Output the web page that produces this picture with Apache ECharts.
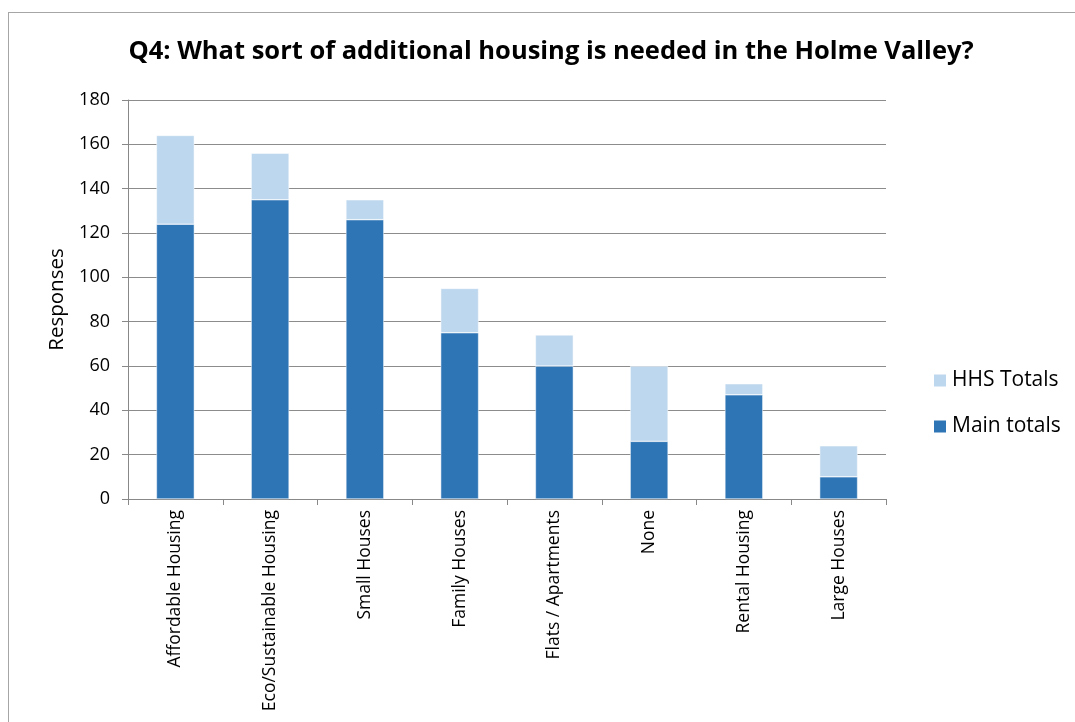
<!DOCTYPE html>
<html><head><meta charset="utf-8">
<script src="https://cdn.jsdelivr.net/npm/echarts@6/dist/echarts.min.js"></script>
<style>
html,body{margin:0;padding:0;background:#fff;}
#c{width:1075px;height:722px;position:absolute;left:0;top:0;}
#b{position:absolute;left:8px;top:12px;width:1100px;height:800px;border:1.5px solid #a6a6a6;pointer-events:none;}
</style></head>
<body>
<div id="c"></div><div id="b"></div>
<script>
const categories = ['Affordable Housing','Eco/Sustainable Housing','Small Houses','Family Houses','Flats / Apartments','None','Rental Housing','Large Houses'];
const mainTotals = [124,135,126,75,60,26,47,10];
const hhsTotals = [40,21,9,20,14,34,5,14];
const yTicks = [0,20,40,60,80,100,120,140,160,180];

const font = "'Open Sans', 'Liberation Sans', sans-serif";
const chart = echarts.init(document.getElementById('c'));
chart.setOption({
  animation:false,
  backgroundColor:'#fff',
  title:{text:'Q4: What sort of additional housing is needed in the Holme Valley?',left:546,top:34,textAlign:'center',
    textStyle:{fontFamily:font,fontWeight:'bold',fontSize:25.5,color:'#000'}},
  legend:{orient:'vertical',left:927,top:365,itemWidth:14,itemHeight:14,itemGap:25,icon:'rect',
    data:['HHS Totals','Main totals'],
    textStyle:{fontFamily:font,fontSize:21,color:'#000'}},
  grid:{left:128,right:189,top:100,bottom:223,containLabel:false},
  xAxis:{type:'category',data:categories,
    axisLine:{lineStyle:{color:'#888',width:1}},
    axisTick:{show:true,length:6,lineStyle:{color:'#888'}},
    axisLabel:{rotate:90,fontFamily:font,fontSize:17.5,color:'#000',margin:11,interval:0}},
  yAxis:{type:'value',min:yTicks[0],max:yTicks[yTicks.length-1],interval:20,
    name:'Responses',nameLocation:'middle',nameGap:60,nameRotate:90,
    nameTextStyle:{fontFamily:font,fontSize:20.5,color:'#000'},
    axisLine:{show:true,lineStyle:{color:'#888'}},
    axisTick:{show:true,length:6,lineStyle:{color:'#888'}},
    splitLine:{lineStyle:{color:'#8c8c8c',width:1}},
    axisLabel:{fontFamily:font,fontSize:18,color:'#000',margin:18}},
  series:[
    {name:'Main totals',type:'bar',stack:'t',data:mainTotals,barWidth:'40%',
     itemStyle:{color:'#2E75B6',borderColor:'#fff',borderWidth:0.5}},
    {name:'HHS Totals',type:'bar',stack:'t',data:hhsTotals,barWidth:'40%',
     itemStyle:{color:'#BDD7EE',borderColor:'#fff',borderWidth:0.5}}
  ]
});
</script>
</body></html>
